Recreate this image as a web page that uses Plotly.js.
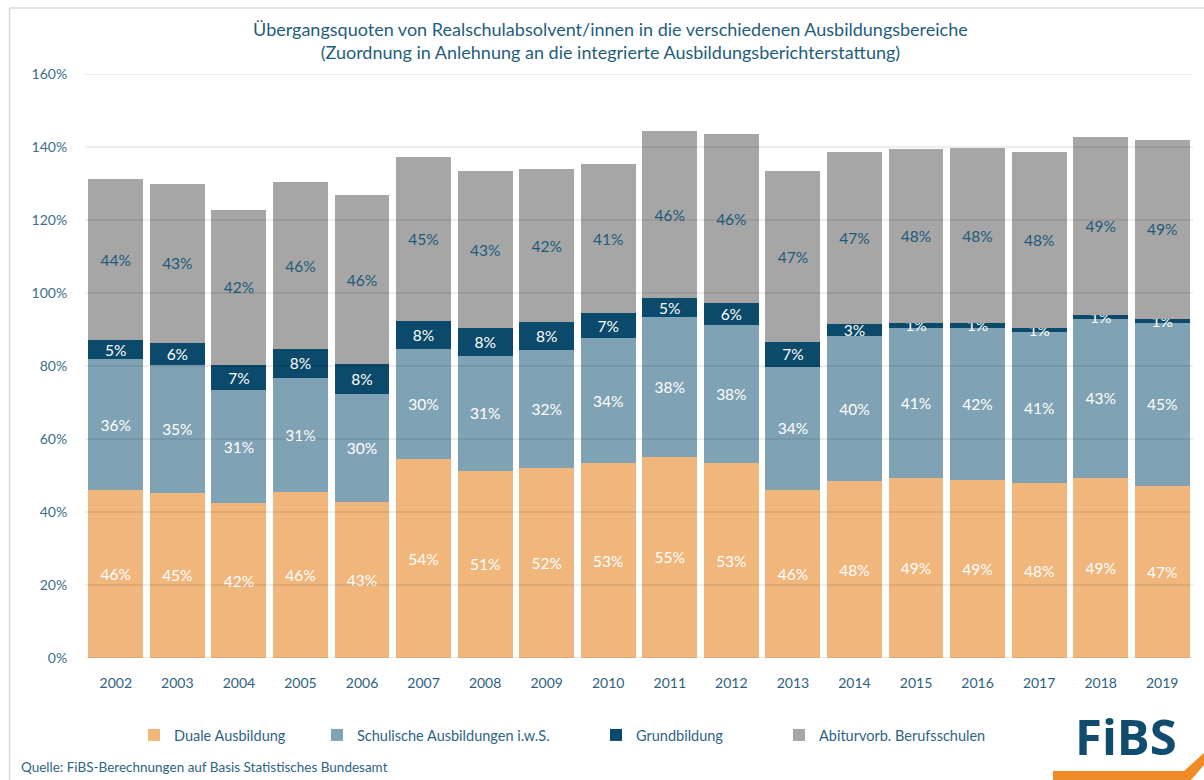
<!DOCTYPE html>
<html>
<head>
<meta charset="utf-8">
<script src="https://cdn.plot.ly/plotly-3.0.1.min.js"></script>
<style>html,body{margin:0;padding:0;background:#fff;}#chart{width:1204px;height:780px;}</style>
</head>
<body>
<div id="chart"></div>
<script>
const years = ['2002','2003','2004','2005','2006','2007','2008','2009','2010','2011','2012','2013','2014','2015','2016','2017','2018','2019'];
const duale = [46.0,45.3,42.4,45.6,42.8,54.4,51.3,52.1,53.3,55.2,53.4,46.1,48.4,49.2,48.8,47.9,49.4,47.1];
const schulisch = [35.8,35.1,30.9,31.2,29.6,30.3,31.4,32.4,34.3,38.1,37.9,33.7,39.9,41.3,41.6,41.4,43.4,44.8];
const grundbildung = [5.2,6.0,7.1,7.9,8.1,7.7,7.6,7.6,6.8,5.2,5.9,6.8,3.1,1.4,1.4,1.0,1.1,0.9];
const abitur = [44.1,43.4,42.3,45.6,46.3,44.9,43.1,41.8,40.9,45.9,46.3,46.7,47.2,47.6,47.9,48.3,48.8,49.2];
const seriesNames = ['Duale Ausbildung','Schulische Ausbildungen i.w.S.','Grundbildung','Abiturvorb. Berufsschulen'];
const yTicks = [0,20,40,60,80,100,120,140,160];
const yTickText = yTicks.map(t => t + '%');

const FONT = 'Lato, "Source Sans Pro", "Open Sans", sans-serif';
const W = 1204, H = 780, ML = 85, MR = 11, MT = 74, MB = 122;
const PW = W - ML - MR, PH = H - MT - MB;
const px = x => (x - ML) / PW;
const py = y => (H - MB - y) / PH;

const colors = ['#F0B67C','#7FA3B4','#0B4A6B','#A6A6A6'];
const textColors = ['#FFFFFF','#FFFFFF','#FFFFFF','#1F5A7A'];
const values = [duale, schulisch, grundbildung, abitur];
const legendLeft = [148, 331, 610, 793];
const legendIds = ['legend','legend2','legend3','legend4'];

const traces = values.map((v, i) => ({
  type: 'bar',
  name: seriesNames[i],
  x: years,
  y: v,
  marker: {color: colors[i], line: {width: 0}},
  texttemplate: '%{y:.0f}%',
  textposition: 'inside',
  insidetextanchor: 'middle',
  constraintext: 'none',
  textangle: 0,
  textfont: {family: FONT, size: 15.5, color: textColors[i]},
  hoverinfo: 'skip',
  legend: legendIds[i],
  cliponaxis: false
}));

const shapes = yTicks.map(t => ({
  type: 'line', xref: 'paper', yref: 'y', x0: 0, x1: 1, y0: t, y1: t,
  line: {color: 'rgba(0,0,0,0.14)', width: 1}, layer: 'above'
}));
// frame
shapes.push({type: 'line', xref: 'paper', yref: 'paper', x0: px(9.5), x1: px(1210), y0: py(8), y1: py(8), line: {color: '#D9D9D9', width: 1.5}, layer: 'below'});
shapes.push({type: 'line', xref: 'paper', yref: 'paper', x0: px(9.5), x1: px(9.5), y0: py(8), y1: py(790), line: {color: '#D9D9D9', width: 1.5}, layer: 'below'});
// logo swoosh
const sw = [[1053,771],[1184,771],[1204,753],[1204,765],[1191,780],[1053,780]];
shapes.push({type: 'path', xref: 'paper', yref: 'paper',
  path: 'M' + sw.map(p => px(p[0]).toFixed(5) + ',' + py(p[1]).toFixed(5)).join(' L') + ' Z',
  fillcolor: '#F08A24', line: {width: 0}, layer: 'above'});

const layout = {
  width: W, height: H,
  margin: {l: ML, r: MR, t: MT, b: MB},
  paper_bgcolor: '#FFFFFF', plot_bgcolor: '#FFFFFF',
  barmode: 'stack', bargap: 0.107,
  font: {family: FONT, color: '#2E6384'},
  title: {
    text: 'Übergangsquoten von Realschulabsolvent/innen in die verschiedenen Ausbildungsbereiche<br>(Zuordnung in Anlehnung an die integrierte Ausbildungsberichterstattung)',
    x: 0.507, xref: 'container', xanchor: 'center',
    y: 1 - 36 / H, yref: 'container', yanchor: 'top',
    font: {family: FONT, size: 18, color: '#1F5D7E'}
  },
  xaxis: {
    type: 'category', showgrid: false, zeroline: false, showline: false,
    ticks: 'outside', ticklen: 12, tickcolor: 'rgba(0,0,0,0)',
    tickfont: {family: FONT, size: 14, color: '#2E5F7E'},
    fixedrange: true
  },
  yaxis: {
    range: [0, 160], tickmode: 'array', tickvals: yTicks, ticktext: yTickText,
    showgrid: false, zeroline: false, showline: false,
    ticks: 'outside', ticklen: 14, tickcolor: 'rgba(0,0,0,0)',
    tickfont: {family: FONT, size: 14, color: '#3B6E8D'},
    fixedrange: true
  },
  shapes: shapes,
  annotations: [
    {text: 'Quelle: FiBS-Berechnungen auf Basis Statistisches Bundesamt', xref: 'paper', yref: 'paper',
     x: px(19), y: py(767), xanchor: 'left', yanchor: 'middle', showarrow: false,
     font: {family: FONT, size: 13.5, color: '#2E6384'}},
    {text: '<b>FiBS</b>', xref: 'paper', yref: 'paper',
     x: px(1126), y: py(736), xanchor: 'center', yanchor: 'middle', showarrow: false,
     font: {family: '"Open Sans", sans-serif', size: 49, color: '#0F4C6E'}}
  ],
  hovermode: false,
  showlegend: true
};
legendIds.forEach((id, i) => {
  layout[id] = {
    orientation: 'h', x: px(legendLeft[i] - 14), y: py(735), xanchor: 'left', yanchor: 'middle',
    bgcolor: 'rgba(0,0,0,0)', borderwidth: 0,
    font: {family: FONT, size: 14.5, color: '#2E6384'}, itemclick: false, itemdoubleclick: false
  };
});

Plotly.newPlot('chart', traces, layout, {displayModeBar: false, staticPlot: true});
</script>
</body>
</html>
